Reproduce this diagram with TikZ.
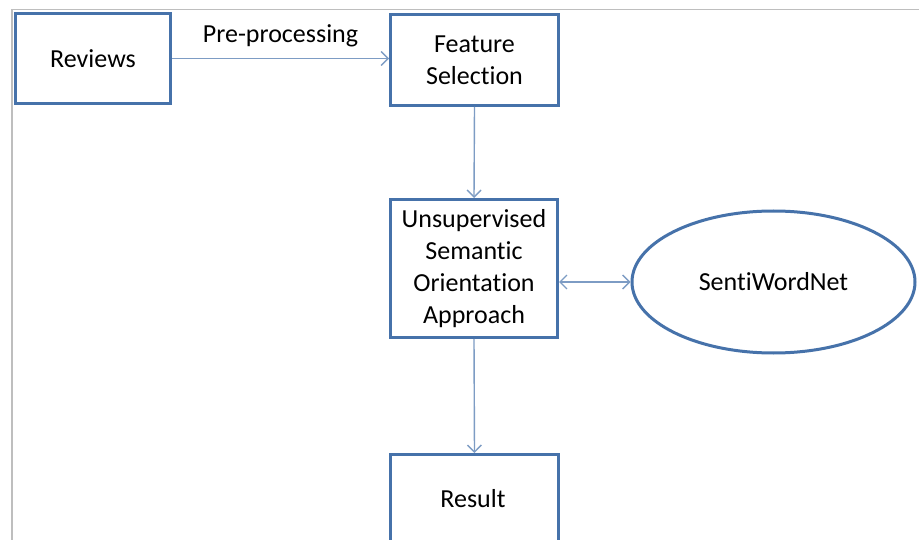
\documentclass[tikz,border=0pt]{standalone}
\usepackage{fontspec}
\setmainfont[Ligatures=NoCommon]{Carlito}
\usetikzlibrary{arrows.meta,shapes.geometric}
\definecolor{boxblue}{RGB}{70,114,170}
\definecolor{arrblue}{RGB}{125,156,196}
\definecolor{framegray}{RGB}{190,190,190}
\tikzset{
  x=1pt,y=-1pt,
  lbl/.style={font=\fontsize{26}{32}\selectfont},
  stepbox/.style={draw=boxblue,line width=3pt,fill=white,align=center,lbl,inner sep=0pt,anchor=north west},
  conn/.style={draw=arrblue,line width=1.4pt,-{Straight Barb[length=7pt,width=14pt]}},
}
\begin{document}
\begin{tikzpicture}
\useasboundingbox (0,0) rectangle (919,540);
\clip (0,0) rectangle (919,540);
\fill[white] (0,0) rectangle (919,540);
\draw[framegray,line width=1.5pt] (12,545) -- (12,9.5) -- (925,9.5);
\node[stepbox,minimum width=155pt,minimum height=90pt] (rev) at (14,12) {Reviews};
\node[stepbox,minimum width=168pt,minimum height=91pt] (feat) at (389,13) {Feature\\Selection};
\node[stepbox,minimum width=167pt,minimum height=138pt] (uns) at (389,198) {Unsupervised\\Semantic\\Orientation\\Approach};
\node[draw=boxblue,line width=3pt,ellipse,minimum width=283pt,minimum height=142pt,inner sep=0pt,lbl] (swn) at (773.5,282) {SentiWordNet};
\node[stepbox,minimum width=168pt,minimum height=120pt] (res) at (389,453) {};
\node[lbl] (resl) at (473,499) {Result};
\draw[conn] (rev.east) -- node[above=7pt,lbl,text=black] (pp) {Pre-processing} (feat.west |- rev.east);
\draw[conn] (feat.south) -- (uns.north);
\draw[conn,{Straight Barb[length=7pt,width=14pt]}-{Straight Barb[length=7pt,width=14pt]}] (uns.east |- swn.west) -- (swn.west);
\draw[conn] (uns.south) -- (res.north);
\end{tikzpicture}
\end{document}
